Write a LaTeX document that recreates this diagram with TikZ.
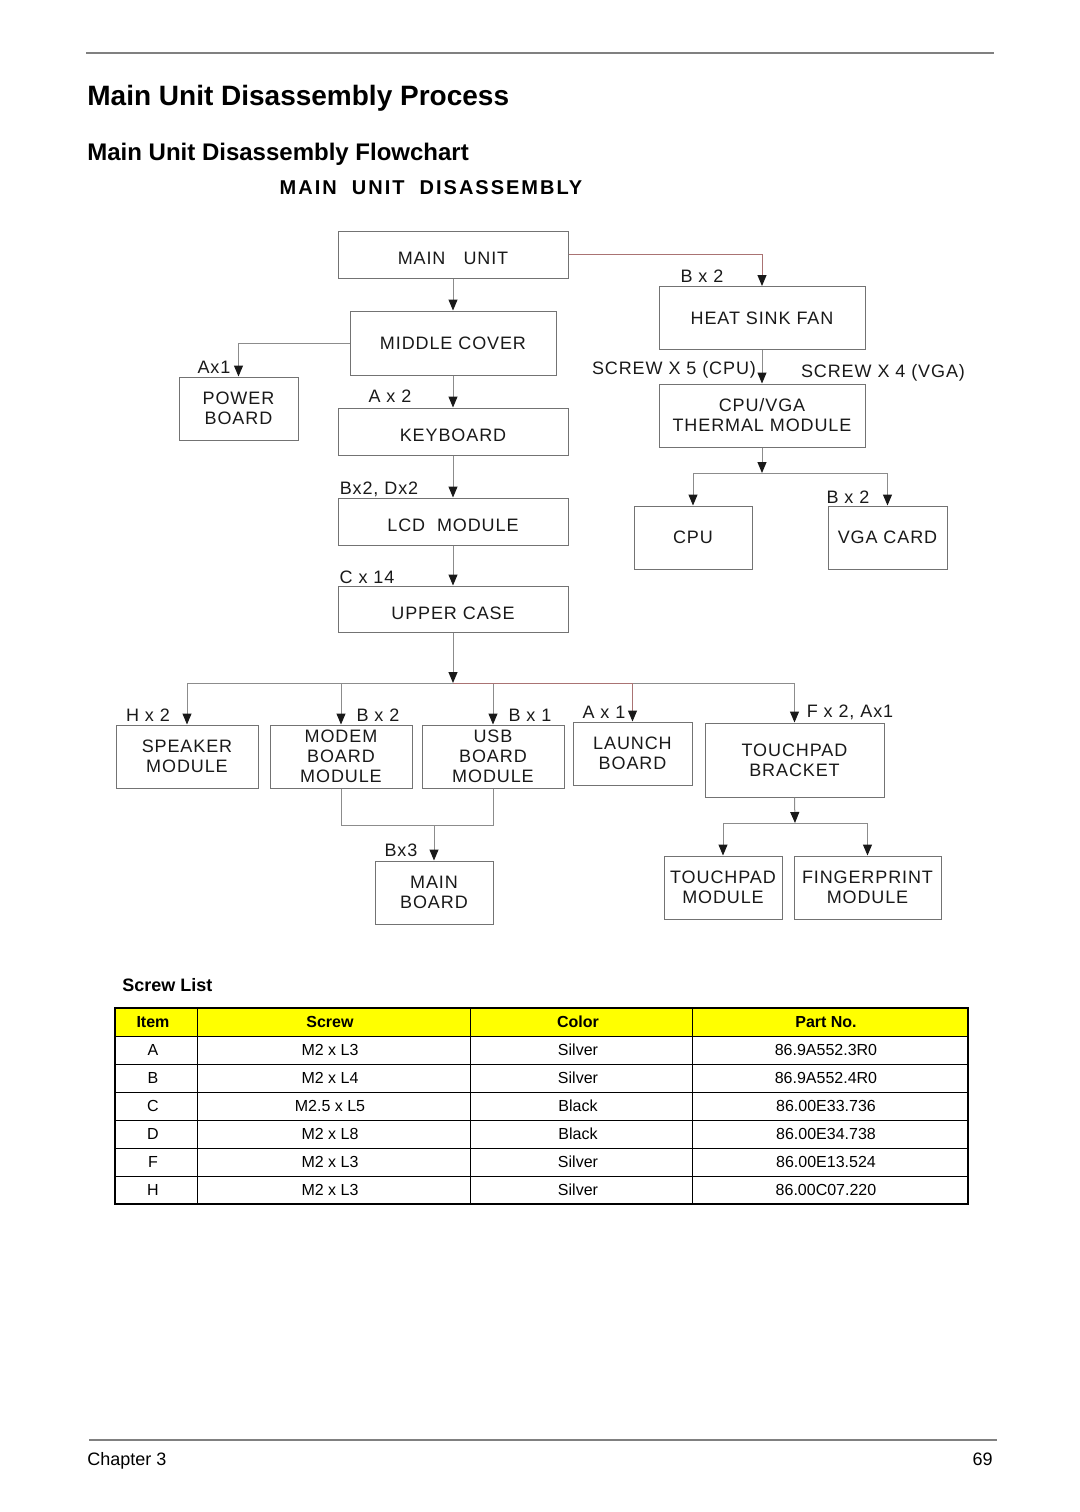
\documentclass[tikz,border=0pt]{standalone}
\usepackage{fontspec}
\setmainfont{Liberation Sans}
\newfontfamily\boxfont[LetterSpace=5]{Liberation Sans}
\newfontfamily\capsfont[LetterSpace=10]{Liberation Sans}
\usetikzlibrary{arrows.meta}
\definecolor{rust}{RGB}{170,115,115}
\definecolor{hilite}{RGB}{255,255,0}

\begin{document}
\begin{tikzpicture}[
        x=0.5pt, y=-0.5pt,
        box/.style 2 args={
            draw=black!55,
            line width=0.5pt,
            minimum width=#1*0.5pt,
            minimum height=#2*0.5pt,
            inner sep=0pt,
            text=black!90,
            font=\boxfont\fontsize{9}{10}\selectfont
        },
        lines/.style={align=center},
        lowtext/.style={text height=10pt, text depth=0pt},
        tag/.style={inner sep=0pt, text=black!90, font=\boxfont\fontsize{9}{10}\selectfont},
        wire/.style={draw=black!45, line width=0.5pt},
        feed/.style={wire, -{Triangle[length=5.5pt,width=4.5pt,black!90]}},
        cell/.style={inner sep=0pt, font=\fontsize{8}{9}\selectfont},
        headcell/.style={inner sep=0pt, font=\bfseries\fontsize{8}{9}\selectfont}
    ]
    \useasboundingbox (0,0) rectangle (1080,1512);

    % Page
    \draw[black!50, line width=0.6pt] (86,53) -- (994,53);
    \node[anchor=base west, inner sep=0pt, font=\bfseries\fontsize{14}{16}\selectfont] (title) at (87,105) {Main Unit Disassembly Process};
    \node[anchor=base west, inner sep=0pt, font=\bfseries\fontsize{12}{14}\selectfont] (subtitle) at (87,160) {Main Unit Disassembly Flowchart};
    \node[anchor=base, inner sep=0pt, font=\capsfont\bfseries\fontsize{10}{12}\selectfont] (charttitle) at (431,194) {MAIN\ \ UNIT\ \ DISASSEMBLY};

    % Boxes
    \node[box={230}{47}, lowtext] (mainunit)  at (453,254.5) {MAIN\hspace{9pt}UNIT};
    \node[box={206}{64}]  (midcover)    at (453,343)   {MIDDLE COVER};
    \node[box={119}{63}, lines] (power) at (238.5,408.5) {POWER\\BOARD};
    \node[box={230}{47}, lowtext] (keyboard)  at (453,431.5) {KEYBOARD};
    \node[box={230}{47}, lowtext] (lcd)       at (453,521.5) {LCD\ \ MODULE};
    \node[box={230}{46}, lowtext] (uppercase) at (453,609)   {UPPER\ CASE};
    \node[box={206}{63}]  (heatsink)    at (762,318) {HEAT SINK FAN};
    \node[box={206}{63}, lines] (thermal)     at (762,415.5) {CPU/VGA\\THERMAL MODULE};
    \node[box={118}{63}]  (cpu)         at (693,537.5) {CPU};
    \node[box={119}{63}]  (vga)         at (887.5,537.5) {VGA CARD};
    \node[box={142}{63}, lines] (speaker)     at (187,756.5) {SPEAKER\\MODULE};
    \node[box={142}{63}, lines] (modem)       at (341,756.5) {MODEM\\BOARD\\MODULE};
    \node[box={142}{63}, lines] (usb)         at (493,756.5) {USB\\BOARD\\MODULE};
    \node[box={119}{63}, lines] (launch)      at (632.5,753.5) {LAUNCH\\BOARD};
    \node[box={179}{74}, lines] (bracket)     at (794.5,760) {TOUCHPAD\\BRACKET};
    \node[box={118}{63}, lines] (mainboard)   at (434,892.5) {MAIN\\BOARD};
    \node[box={118}{63}, lines] (tpmodule)    at (723,887.5) {TOUCHPAD\\MODULE};
    \node[box={147}{63}, lines] (fingerprint) at (867.5,887.5) {FINGERPRINT\\MODULE};

    % Screw counts
    \node[tag] (qfan)     at (702,276) {B x 2};
    \node[tag] (qpower)   at (214,367) {Ax1};
    \node[tag] (qkey)     at (390,396) {A x 2};
    \node[tag] (qlcd)     at (379,489) {Bx2, Dx2};
    \node[tag] (qupper)   at (367,577) {C x 14};
    \node[tag] (qcpu)     at (674,370) {SCREW X 5 (CPU)};
    \node[tag] (qvgamod)  at (883,373) {SCREW X 4 (VGA)};
    \node[tag] (qvga)     at (848,497) {B x 2};
    \node[tag] (qspeaker) at (148,715) {H x 2};
    \node[tag] (qmodem)   at (378,715) {B x 2};
    \node[tag] (qusb)     at (530,715) {B x 1};
    \node[tag] (qlaunch)  at (604,712) {A x 1};
    \node[tag] (qbracket) at (850,712) {F x 2, Ax1};
    \node[tag] (qmain)    at (401,850) {Bx3};

    % Junctions
    \coordinate (forkT) at (762,473);
    \coordinate (forkU) at (453,683);
    \coordinate (joinM) at (434,825);
    \coordinate (forkP) at (795,823);

    % Arrows
    \draw[feed, draw=rust] (mainunit.east) -| (heatsink.north);
    \draw[feed] (mainunit.south) -- (midcover.north);
    \draw[feed] (midcover.west) -| (power.north);
    \draw[feed] (midcover.south) -- (keyboard.north);
    \draw[feed] (keyboard.south) -- (lcd.north);
    \draw[feed] (lcd.south) -- (uppercase.north);
    \draw[feed] (heatsink.south) -- (thermal.north);
    \draw[feed] (thermal.south) -- (forkT);
    \draw[feed] (forkT) -| (cpu.north);
    \draw[feed] (forkT) -| (vga.north);
    \draw[feed] (uppercase.south) -- (forkU);
    \foreach \b in {speaker,modem,usb,bracket}
        \draw[feed] (forkU) -| (\b.north);
    \draw[feed, draw=rust] (forkU) -| (launch.north);
    \draw[wire] (modem.south) |- (joinM);
    \draw[wire] (usb.south) |- (joinM);
    \draw[feed] (joinM) -- (mainboard.north);
    \draw[feed] (bracket.south) -- (forkP);
    \draw[feed] (forkP) -| (tpmodule.north);
    \draw[feed] (forkP) -| (fingerprint.north);

    % Screw list
    \node[anchor=base west, inner sep=0pt, font=\bfseries\fontsize{9}{11}\selectfont] (screwlist) at (122,991) {Screw List};
    \fill[hilite] (115,1008) rectangle (968,1036);
    \foreach \y in {1036,1064,...,1176}
        \draw[black, line width=0.5pt] (115,\y) -- (968,\y);
    \foreach \x in {197,470,692}
        \draw[black, line width=0.5pt] (\x,1008) -- (\x,1204);
    \draw[black, line width=0.7pt] (115,1008) rectangle (968,1204);
    \node[headcell] (hitem)  at (153,1022) {Item};
    \node[headcell] (hscrew) at (330,1022) {Screw};
    \node[headcell] (hcolor) at (578,1022) {Color};
    \node[headcell] (hpart)  at (826,1022) {Part No.};
    \foreach \it/\sz/\fin/\pn [count=\r] in {
            A/M2 x L3/Silver/86.9A552.3R0,
            B/M2 x L4/Silver/86.9A552.4R0,
            C/M2.5 x L5/Black/86.00E33.736,
            D/M2 x L8/Black/86.00E34.738,
            F/M2 x L3/Silver/86.00E13.524,
            H/M2 x L3/Silver/86.00C07.220} {
        \node[cell] (item\r)  at (153,{1022+28*\r}) {\it};
        \node[cell] (screw\r) at (330,{1022+28*\r}) {\sz};
        \node[cell] (color\r) at (578,{1022+28*\r}) {\fin};
        \node[cell] (part\r)  at (826,{1022+28*\r}) {\pn};
    }

    % Footer
    \draw[black!50, line width=0.6pt] (89,1440) -- (997,1440);
    \node[anchor=base west, inner sep=0pt, font=\fontsize{9}{11}\selectfont] (chapter) at (87,1465) {Chapter 3};
    \node[anchor=base east, inner sep=0pt, font=\fontsize{9}{11}\selectfont] (pagenum) at (993,1465) {69};

\end{tikzpicture}
\end{document}
